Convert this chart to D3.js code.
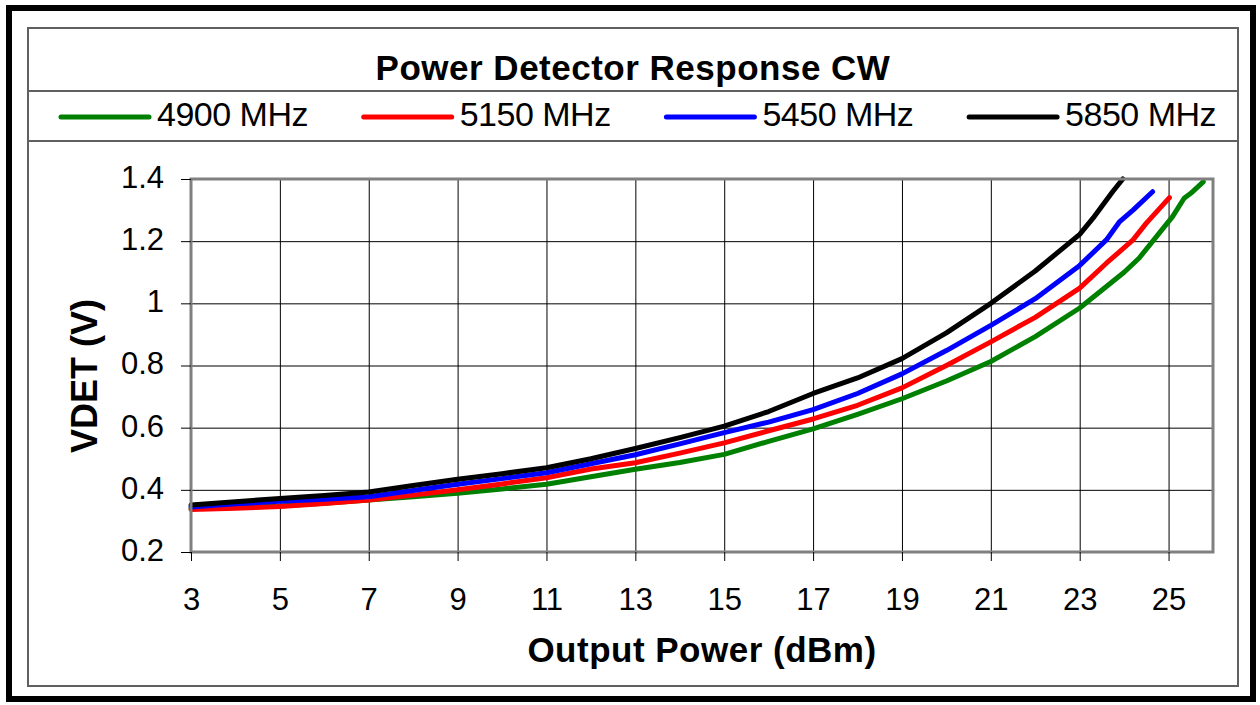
<!DOCTYPE html>
<html>
<head>
<meta charset="utf-8">
<script src="https://cdn.jsdelivr.net/npm/d3@7"></script>
<style>
  body { margin: 0; background: #fff; }
  svg { display: block; font-family: "Liberation Sans", Arial, sans-serif; }
</style>
</head>
<body>
<svg width="1260" height="705"></svg>
<script>
// values
const seriesNames = ["4900 MHz", "5150 MHz", "5450 MHz", "5850 MHz"];
const seriesColors = ["#008000", "#ff0000", "#0000ff", "#000000"];

const x4900 = [3,4,5,6,7,8,9,10,11,12,13,14,15,16,17,18,19,20,21,22,23,24,24.34,24.79,25.09,25.35,25.5,25.78];
const y4900 = [0.340,0.343,0.348,0.357,0.367,0.378,0.389,0.403,0.418,0.442,0.466,0.488,0.514,0.556,0.596,0.643,0.693,0.750,0.813,0.893,0.985,1.100,1.146,1.226,1.279,1.338,1.354,1.391];

const x5150 = [3,4,5,6,7,8,9,10,11,12,13,14,15,16,17,18,19,20,21,22,23,23.6,24.2,24.5,25.02];
const y5150 = [0.337,0.341,0.346,0.356,0.367,0.383,0.400,0.419,0.439,0.467,0.487,0.518,0.551,0.590,0.628,0.672,0.728,0.800,0.876,0.955,1.049,1.129,1.204,1.258,1.340];

const x5450 = [3,4,5,6,7,8,9,10,11,12,13,14,15,16,17,18,19,20,21,22,23,23.6,23.9,24.2,24.64];
const y5450 = [0.345,0.355,0.363,0.370,0.378,0.398,0.418,0.436,0.455,0.484,0.513,0.548,0.584,0.618,0.658,0.710,0.773,0.848,0.929,1.015,1.122,1.204,1.263,1.300,1.359];

const x5850 = [3,4,5,6,7,8,9,10,11,12,13,14,15,16,17,18,19,20,21,22,23,23.3,23.74,23.97];
const y5850 = [0.351,0.362,0.372,0.382,0.393,0.414,0.434,0.452,0.471,0.500,0.533,0.568,0.605,0.652,0.710,0.760,0.822,0.905,1.000,1.104,1.222,1.274,1.359,1.400];

const xTickValues = [3,5,7,9,11,13,15,17,19,21,23,25];
const yTickValues = [0.2,0.4,0.6,0.8,1,1.2,1.4];

const seriesX = [x4900, x5150, x5450, x5850];
const seriesY = [y4900, y5150, y5450, y5850];
const series = seriesNames.map((name, i) => ({
  name: name,
  color: seriesColors[i],
  points: seriesX[i].map((x, j) => [x, seriesY[i][j]])
}));

const svg = d3.select("svg");

// outer frame and chart box
svg.append("rect").attr("x", 9).attr("y", 8).attr("width", 1244).attr("height", 691)
  .attr("fill", "none").attr("stroke", "#000").attr("stroke-width", 6);
svg.append("rect").attr("x", 28).attr("y", 28).attr("width", 1210).attr("height", 658)
  .attr("fill", "#fff").attr("stroke", "#606060").attr("stroke-width", 2);
svg.append("line").attr("x1", 28).attr("x2", 1238).attr("y1", 91).attr("y2", 91)
  .attr("stroke", "#606060").attr("stroke-width", 2);
svg.append("line").attr("x1", 28).attr("x2", 1238).attr("y1", 141).attr("y2", 141)
  .attr("stroke", "#606060").attr("stroke-width", 2);

svg.append("text")
  .attr("x", 633).attr("y", 80)
  .attr("text-anchor", "middle")
  .style("font-size", "35px").style("font-weight", "bold").style("letter-spacing", "0.5px")
  .text("Power Detector Response CW");

// legend
const legend = svg.append("g").selectAll("g")
  .data(series).enter()
  .append("g")
  .attr("transform", (d, i) => "translate(" + (61 + i * 302.7) + ",117)");
legend.append("line")
  .attr("x1", 0).attr("x2", 88)
  .attr("stroke", d => d.color).attr("stroke-width", 5).attr("stroke-linecap", "round");
legend.append("text")
  .attr("x", 96).attr("y", 9)
  .style("font-size", "34px").style("letter-spacing", "-0.5px")
  .text(d => d.name);

// plot area
const plotLeft = 191, plotRight = 1213, plotTop = 179, plotBottom = 552;
const x = d3.scaleLinear().domain([3, 26]).range([plotLeft, plotRight]);
const y = d3.scaleLinear().domain([0.2, 1.4]).range([plotBottom, plotTop]);

// grid
svg.append("g")
  .attr("transform", "translate(0," + plotBottom + ")")
  .call(d3.axisBottom(x).tickValues(xTickValues.slice(1)).tickSize(-(plotBottom - plotTop)).tickFormat(""))
  .call(g => g.select(".domain").remove())
  .call(g => g.selectAll("line").attr("stroke", "#000"));
svg.append("g")
  .attr("transform", "translate(" + plotLeft + ",0)")
  .call(d3.axisLeft(y).tickValues(yTickValues.slice(1, -1)).tickSize(-(plotRight - plotLeft)).tickFormat(""))
  .call(g => g.select(".domain").remove())
  .call(g => g.selectAll("line").attr("stroke", "#000"));

// curves
const line = d3.line().x(d => x(d[0])).y(d => y(d[1]));
svg.append("g").selectAll("path")
  .data(series).enter()
  .append("path")
  .attr("d", d => line(d.points))
  .attr("fill", "none")
  .attr("stroke", d => d.color)
  .attr("stroke-width", 5)
  .attr("stroke-linejoin", "round")
  .attr("stroke-linecap", "round");

// plot border
svg.append("rect")
  .attr("x", plotLeft).attr("y", plotTop).attr("width", plotRight - plotLeft).attr("height", plotBottom - plotTop)
  .attr("fill", "none").attr("stroke", "#808080").attr("stroke-width", 3);

// axes
const xAxis = svg.append("g")
  .attr("transform", "translate(0," + plotBottom + ")")
  .call(d3.axisBottom(x).tickValues(xTickValues).tickSize(9).tickPadding(27).tickFormat(d3.format("d")));
xAxis.select(".domain").remove();
xAxis.selectAll("line").attr("stroke", "#000");
xAxis.selectAll("text").style("font-size", "31px").attr("fill", "#000");
xAxis.attr("font-family", null);

const yAxis = svg.append("g")
  .attr("transform", "translate(" + plotLeft + ",0)")
  .call(d3.axisLeft(y).tickValues(yTickValues).tickSize(10).tickPadding(17)
    .tickFormat(d => String(+d.toFixed(1))));
yAxis.select(".domain").remove();
yAxis.selectAll("line").attr("stroke", "#000");
yAxis.selectAll("text").style("font-size", "31px").attr("fill", "#000").attr("dy", "0.27em");
yAxis.attr("font-family", null);

// axis titles
svg.append("text")
  .attr("x", (plotLeft + plotRight) / 2).attr("y", 662)
  .attr("text-anchor", "middle")
  .style("font-size", "35px").style("font-weight", "bold").style("letter-spacing", "0.5px")
  .text("Output Power (dBm)");
svg.append("text")
  .attr("transform", "translate(97,376) rotate(-90)")
  .attr("text-anchor", "middle")
  .style("font-size", "36px").style("font-weight", "bold")
  .text("VDET (V)");
</script>
</body>
</html>
